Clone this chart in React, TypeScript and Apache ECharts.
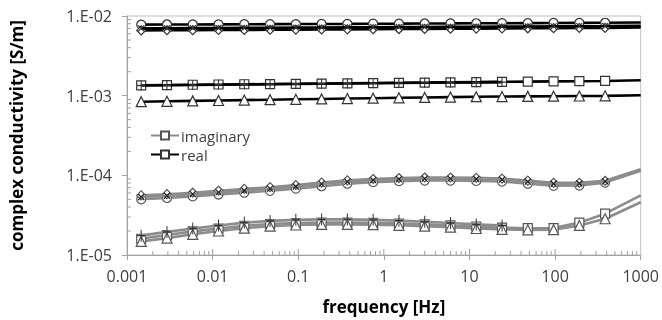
import React, { useEffect, useRef } from 'react';
import * as echarts from 'echarts';

// measurement frequencies [Hz] (markers); every curve also has an end point at 1000 Hz without marker
const freqs = [0.0014648, 0.0029297, 0.0058594, 0.0117188, 0.0234375, 0.046875, 0.09375, 0.1875, 0.375, 0.75, 1.5, 3, 6, 12, 24, 48, 96, 192, 384];
const freqEnd = 1000;

// real part [S/m]
const realCircle = [0.00780, 0.00782, 0.00783, 0.00785, 0.00788, 0.00790, 0.00792, 0.00795, 0.00797, 0.00800, 0.00802, 0.00805, 0.00807, 0.00810, 0.00812, 0.00815, 0.00818, 0.00820, 0.00822, 0.00828];
const realCross = [0.00700, 0.00702, 0.00704, 0.00706, 0.00709, 0.00711, 0.00714, 0.00716, 0.00719, 0.00722, 0.00725, 0.00727, 0.00730, 0.00733, 0.00736, 0.00739, 0.00742, 0.00745, 0.00748, 0.00755];
const realDiamond = [0.00660, 0.00662, 0.00664, 0.00667, 0.00669, 0.00672, 0.00675, 0.00677, 0.00680, 0.00683, 0.00686, 0.00689, 0.00692, 0.00695, 0.00698, 0.00701, 0.00704, 0.00707, 0.00710, 0.00718];
const realSquare = [0.00135, 0.00136, 0.00137, 0.00138, 0.00139, 0.00140, 0.00141, 0.00142, 0.00143, 0.00144, 0.00145, 0.00146, 0.00147, 0.00148, 0.00149, 0.00150, 0.00151, 0.00152, 0.00153, 0.00156];
const realPlus = [0.00134, 0.00135, 0.00136, 0.00137, 0.00138, 0.00139, 0.00140, 0.00141, 0.00142, 0.00143, 0.00144, 0.00145, 0.00146, 0.00147, 0.00148];
const realTriangle = [0.00084, 0.00085, 0.00086, 0.00087, 0.00088, 0.00089, 0.00090, 0.00091, 0.00092, 0.00093, 0.00094, 0.00095, 0.00096, 0.00097, 0.000975, 0.00098, 0.000985, 0.00099, 0.000995, 0.00101];

// imaginary part [S/m]
const imagCircle = [5.0e-5, 5.2e-5, 5.45e-5, 5.75e-5, 6.05e-5, 6.4e-5, 6.8e-5, 7.3e-5, 7.85e-5, 8.2e-5, 8.45e-5, 8.6e-5, 8.6e-5, 8.5e-5, 8.35e-5, 7.85e-5, 7.4e-5, 7.45e-5, 8.1e-5, 1.14e-4];
const imagCross = [5.35e-5, 5.55e-5, 5.8e-5, 6.1e-5, 6.45e-5, 6.8e-5, 7.25e-5, 7.8e-5, 8.35e-5, 8.7e-5, 8.95e-5, 9.1e-5, 9.1e-5, 9.0e-5, 8.85e-5, 8.35e-5, 7.85e-5, 7.9e-5, 8.4e-5, 1.17e-4];
const imagDiamond = [5.6e-5, 5.8e-5, 6.05e-5, 6.4e-5, 6.75e-5, 7.1e-5, 7.55e-5, 8.1e-5, 8.65e-5, 9.0e-5, 9.25e-5, 9.4e-5, 9.4e-5, 9.3e-5, 9.1e-5, 8.6e-5, 8.05e-5, 8.05e-5, 8.55e-5, 1.19e-4];
const imagSquare = [1.6e-5, 1.78e-5, 1.98e-5, 2.15e-5, 2.32e-5, 2.45e-5, 2.52e-5, 2.56e-5, 2.56e-5, 2.53e-5, 2.48e-5, 2.42e-5, 2.35e-5, 2.28e-5, 2.2e-5, 2.17e-5, 2.18e-5, 2.55e-5, 3.3e-5, 5.6e-5];
const imagPlus = [1.75e-5, 1.95e-5, 2.15e-5, 2.35e-5, 2.55e-5, 2.68e-5, 2.76e-5, 2.8e-5, 2.8e-5, 2.76e-5, 2.7e-5, 2.62e-5, 2.52e-5, 2.42e-5, 2.35e-5];
const imagTriangle = [1.48e-5, 1.63e-5, 1.82e-5, 2.0e-5, 2.17e-5, 2.3e-5, 2.38e-5, 2.42e-5, 2.42e-5, 2.4e-5, 2.36e-5, 2.3e-5, 2.24e-5, 2.15e-5, 2.1e-5, 2.07e-5, 2.08e-5, 2.35e-5, 2.85e-5, 4.6e-5];

// axes
const xMin = 0.001;
const xMax = 1000;
const yMin = 1e-5;
const yMax = 1e-2;
const xDecades = [0.001, 0.01, 0.1, 1, 10, 100];
const yDecades = [1e-5, 1e-4, 1e-3];
const minorMultipliers = [2, 3, 4, 5, 6, 7, 8, 9];
const xMajorTicks = [0.01, 0.1, 1, 10, 100];

const FONT = 'Open Sans';
const CROSS = 'path://M0,0L10,10M10,0L0,10';
const PLUS = 'path://M5,0L5,10M0,5L10,5';

function buildData(ys: number[]) {
  return ys.map((y, i) => (i < freqs.length ? [freqs[i], y] : { value: [freqEnd, y], symbol: 'none' }));
}

function lineSeries(name: string, ys: number[], symbol: string, size: number | number[], lineColor: string, markColor: string, z: number) {
  return {
    type: 'line',
    name,
    data: buildData(ys),
    symbol,
    symbolSize: size,
    showAllSymbol: true,
    lineStyle: { color: lineColor, width: 2.6 },
    itemStyle: { color: '#ffffff', borderColor: markColor, borderWidth: 1.2 },
    emphasis: { disabled: true },
    z,
  };
}

function tickSeries(values: number[], axis: 'x' | 'y', len: number) {
  return {
    type: 'custom',
    silent: true,
    clip: false,
    z: 1,
    data: values.map((v) => (axis === 'x' ? [v, yMin] : [xMin, v])),
    renderItem: (params: any, api: any) => {
      const p = api.coord([api.value(0), api.value(1)]);
      const shape = axis === 'x'
        ? { x1: p[0], y1: p[1], x2: p[0], y2: p[1] - len }
        : { x1: p[0], y1: p[1], x2: p[0] + len, y2: p[1] };
      return { type: 'line', shape, style: { stroke: '#a0a0a0', lineWidth: 1 } };
    },
  };
}

export default function App() {
  const ref = useRef<HTMLDivElement>(null);
  useEffect(() => {
    const chart = echarts.init(ref.current!, null, { renderer: 'svg' });
    const xMinor = xDecades.flatMap((d) => minorMultipliers.map((m) => d * m));
    const yMinor = yDecades.flatMap((d) => minorMultipliers.map((m) => d * m));
    const realCol = '#000000';
    const imagCol = '#8c8c8c';
    const option = {
      animation: false,
      grid: { left: 122, right: 20, top: 16, bottom: 59, show: true, borderColor: '#c0c0c0', borderWidth: 1 },
      legend: {
        data: ['imaginary', 'real'],
        orient: 'vertical',
        left: 145,
        top: 123,
        itemWidth: 28,
        itemHeight: 10,
        itemGap: 4,
        textStyle: { fontFamily: FONT, fontSize: 15, color: '#404040', padding: [0, 0, 0, -3] },
      },
      xAxis: {
        type: 'log',
        logBase: 10,
        min: xMin,
        max: xMax,
        name: 'frequency [Hz]',
        nameLocation: 'middle',
        nameGap: 43,
        nameTextStyle: { fontFamily: FONT, fontSize: 17, fontWeight: 'bold', color: '#000' },
        axisLine: { lineStyle: { color: '#a0a0a0' } },
        axisTick: { show: true, length: 5, lineStyle: { color: '#a0a0a0' } },
        splitLine: { show: false },
        minorTick: { show: false },
        axisLabel: {
          fontFamily: FONT,
          fontSize: 16,
          color: '#404040',
          margin: 13,
          showMaxLabel: true,
          showMinLabel: true,
          formatter: (v: number) => {
            const e = Math.round(Math.log10(v));
            return e < 0 ? v.toFixed(-e) : String(Math.round(v));
          },
        },
      },
      yAxis: {
        type: 'log',
        logBase: 10,
        min: yMin,
        max: yMax,
        name: 'complex conductivity [S/m]',
        nameLocation: 'middle',
        nameGap: 102,
        nameTextStyle: { fontFamily: FONT, fontSize: 17, fontWeight: 'bold', color: '#000' },
        axisLine: { show: true, lineStyle: { color: '#a0a0a0' } },
        axisTick: { show: true, length: 5, lineStyle: { color: '#a0a0a0' } },
        splitLine: { show: false },
        axisLabel: {
          fontFamily: FONT,
          fontSize: 16,
          color: '#404040',
          margin: 15,
          formatter: (v: number) => {
            const e = Math.round(Math.log10(v));
            return '1.E' + (e < 0 ? '-' : '+') + String(Math.abs(e)).padStart(2, '0');
          },
        },
      },
      series: [
        tickSeries(xMinor, 'x', 4),
        tickSeries(xMajorTicks, 'x', 6),
        tickSeries(yMinor, 'y', 4),
        lineSeries('imag-circle', imagCircle, 'circle', 9, imagCol, '#555', 3),
        lineSeries('imag-diamond', imagDiamond, 'diamond', 9, imagCol, '#555', 3),
        lineSeries('imag-cross', imagCross, CROSS, 6, imagCol, '#222', 4),
        lineSeries('imaginary', imagSquare, 'rect', 9, imagCol, '#555', 3),
        lineSeries('imag-triangle', imagTriangle, 'triangle', 10, imagCol, '#555', 3),
        lineSeries('imag-plus', imagPlus, PLUS, [8, 12], imagCol, '#333', 4),
        lineSeries('real-circle', realCircle, 'circle', 9, realCol, '#333', 5),
        lineSeries('real-cross', realCross, CROSS, 6, realCol, '#333', 6),
        lineSeries('real-diamond', realDiamond, 'diamond', 9, realCol, '#333', 5),
        lineSeries('real', realSquare, 'rect', 9, realCol, '#333', 5),
        lineSeries('real-plus', realPlus, PLUS, [8, 10], realCol, '#333', 6),
        lineSeries('real-triangle', realTriangle, 'triangle', 10, realCol, '#333', 5),
      ],
    };
    chart.setOption(option as any);
    return () => chart.dispose();
  }, []);
  return <div ref={ref} style={{ position: 'fixed', left: 0, top: 0, width: 662, height: 320 }} />;
}
